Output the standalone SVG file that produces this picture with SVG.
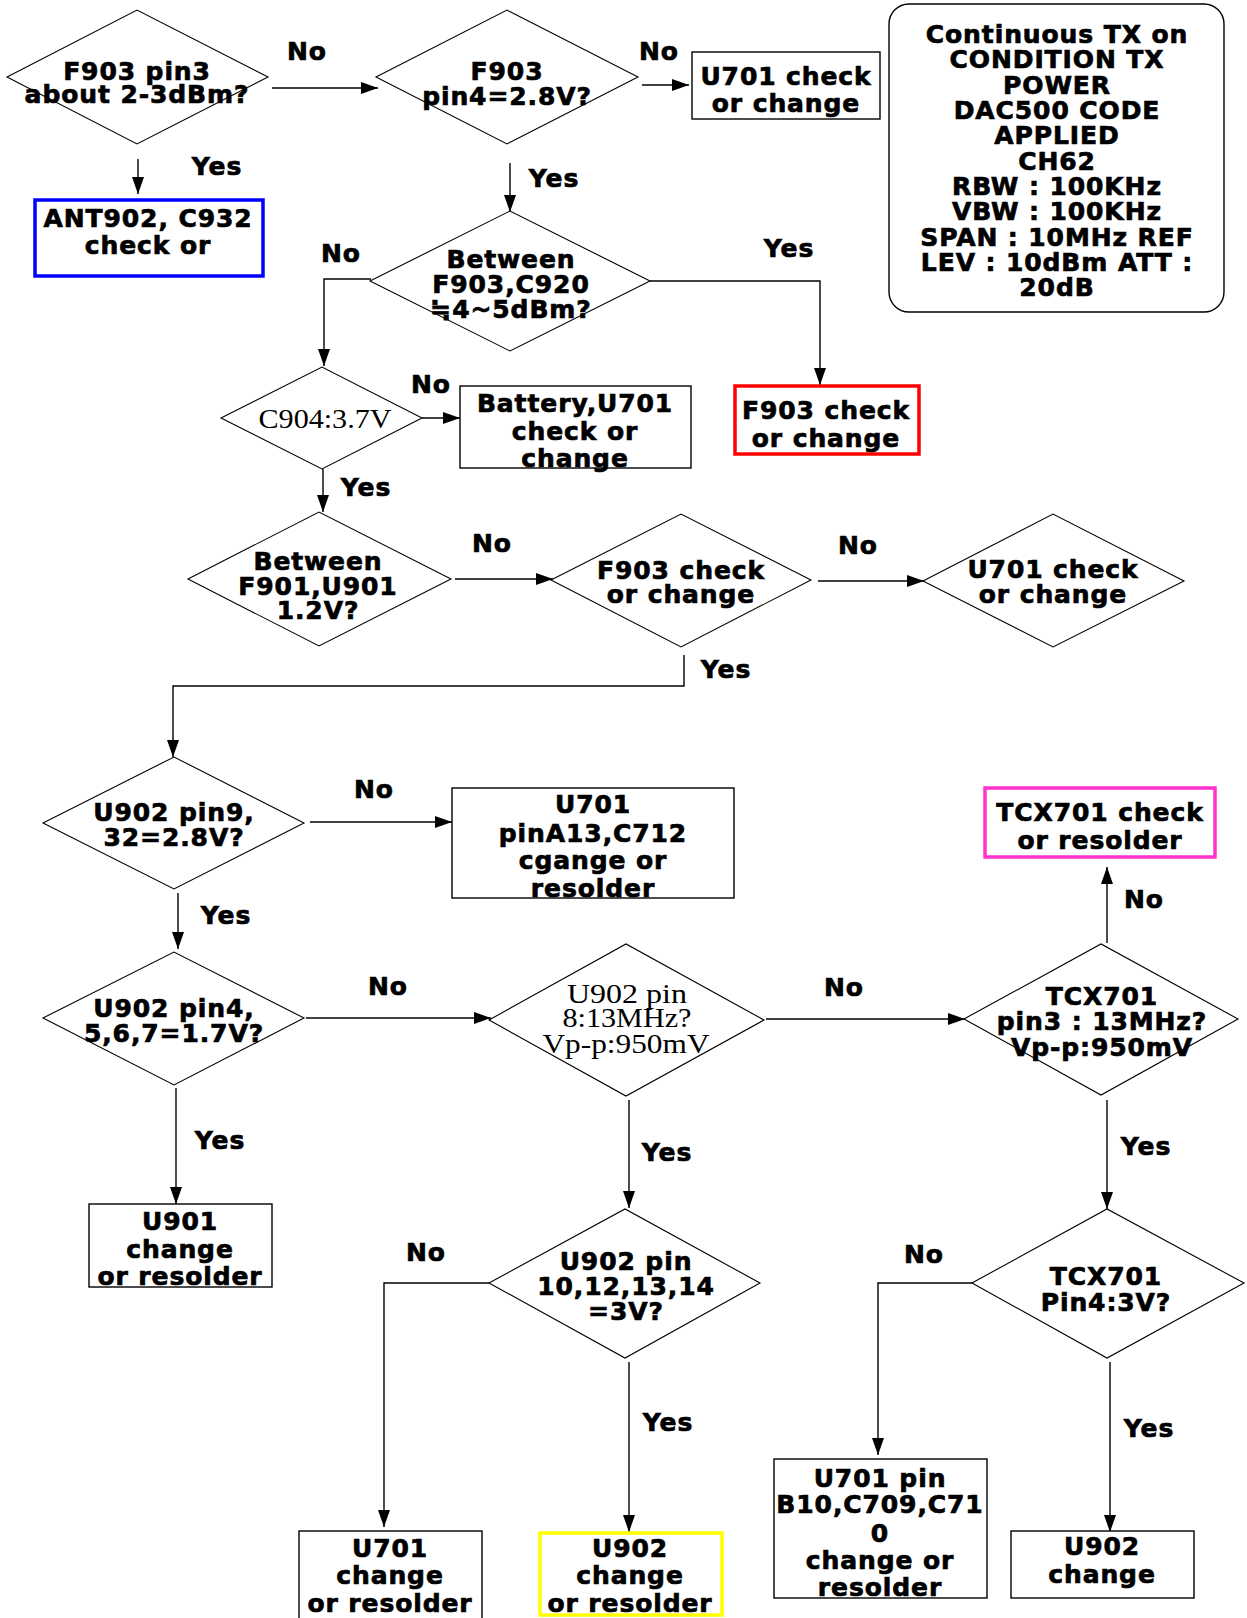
<svg xmlns="http://www.w3.org/2000/svg" width="1247" height="1618" viewBox="0 0 1247 1618">
<style>
.bg{fill:#fff}
.d{fill:#fff;stroke:#000;stroke-width:1.1}
.b{fill:#fff;stroke:#000;stroke-width:1.4}
.t{font-family:"DejaVu Sans","Verdana",sans-serif;font-weight:bold;font-size:25px;letter-spacing:0.9px;text-anchor:middle;fill:#000;stroke:#000;stroke-width:0.7px}
.s{font-family:"Liberation Serif","Times New Roman",serif;font-size:28px;text-anchor:middle;fill:#000}
.c{fill:none;stroke:#000;stroke-width:1.4}
</style>
<defs>
<marker id="ah" markerUnits="userSpaceOnUse" markerWidth="18" markerHeight="14" refX="17" refY="6" orient="auto">
<path d="M0,0 L17,6 L0,12 z" fill="#000"/>
</marker>
</defs>
<rect class="bg" x="0" y="0" width="1247" height="1618"/>

<g id="connectors">
<line class="c" x1="272" y1="88" x2="378" y2="88" marker-end="url(#ah)"/>
<text class="t" x="307" y="60">No</text>
<line class="c" x1="138" y1="159" x2="138" y2="194" marker-end="url(#ah)"/>
<text class="t" x="217" y="175">Yes</text>
<line class="c" x1="642" y1="85" x2="689" y2="85" marker-end="url(#ah)"/>
<text class="t" x="659" y="60">No</text>
<line class="c" x1="510" y1="163" x2="510" y2="212" marker-end="url(#ah)"/>
<text class="t" x="554" y="187">Yes</text>
<polyline class="c" points="650,281 820,281 820,385" marker-end="url(#ah)"/>
<text class="t" x="789" y="257">Yes</text>
<polyline class="c" points="371,279 324,279 324,366" marker-end="url(#ah)"/>
<text class="t" x="341" y="262">No</text>
<line class="c" x1="422" y1="418" x2="460" y2="418" marker-end="url(#ah)"/>
<text class="t" x="431" y="393">No</text>
<line class="c" x1="323" y1="469" x2="323" y2="512" marker-end="url(#ah)"/>
<text class="t" x="366" y="496">Yes</text>
<line class="c" x1="455" y1="579" x2="553" y2="579" marker-end="url(#ah)"/>
<text class="t" x="492" y="552">No</text>
<line class="c" x1="818" y1="581" x2="924" y2="581" marker-end="url(#ah)"/>
<text class="t" x="858" y="554">No</text>
<polyline class="c" points="684,655 684,686 173,686 173,757" marker-end="url(#ah)"/>
<text class="t" x="726" y="678">Yes</text>
<line class="c" x1="310" y1="822" x2="452" y2="822" marker-end="url(#ah)"/>
<text class="t" x="374" y="798">No</text>
<line class="c" x1="178" y1="893" x2="178" y2="949" marker-end="url(#ah)"/>
<text class="t" x="226" y="924">Yes</text>
<line class="c" x1="306" y1="1018" x2="491" y2="1018" marker-end="url(#ah)"/>
<text class="t" x="388" y="995">No</text>
<line class="c" x1="766" y1="1019" x2="965" y2="1019" marker-end="url(#ah)"/>
<text class="t" x="844" y="996">No</text>
<line class="c" x1="1107" y1="943" x2="1107" y2="867" marker-end="url(#ah)"/>
<text class="t" x="1144" y="908">No</text>
<line class="c" x1="176" y1="1088" x2="176" y2="1204" marker-end="url(#ah)"/>
<text class="t" x="220" y="1149">Yes</text>
<line class="c" x1="629" y1="1100" x2="629" y2="1208" marker-end="url(#ah)"/>
<text class="t" x="667" y="1161">Yes</text>
<polyline class="c" points="489,1283 384,1283 384,1527" marker-end="url(#ah)"/>
<text class="t" x="426" y="1261">No</text>
<line class="c" x1="629" y1="1362" x2="629" y2="1532" marker-end="url(#ah)"/>
<text class="t" x="668" y="1431">Yes</text>
<line class="c" x1="1107" y1="1100" x2="1107" y2="1209" marker-end="url(#ah)"/>
<text class="t" x="1146" y="1155">Yes</text>
<polyline class="c" points="972,1283 878,1283 878,1455" marker-end="url(#ah)"/>
<text class="t" x="924" y="1263">No</text>
<line class="c" x1="1110" y1="1362" x2="1110" y2="1532" marker-end="url(#ah)"/>
<text class="t" x="1149" y="1437">Yes</text>
</g>

<g id="d1">
<polygon class="d" points="7,77 137,10 268,77 137,144"/>
<text class="t" x="137" y="80">F903 pin3</text>
<text class="t" x="137" y="103">about 2-3dBm?</text>
</g>
<g id="d2">
<polygon class="d" points="376,77 507,10 638,77 507,144"/>
<text class="t" x="507" y="80">F903</text>
<text class="t" x="507" y="105">pin4=2.8V?</text>
</g>
<g id="b1">
<rect class="b" x="692" y="52" width="188" height="67"/>
<text class="t" x="786" y="85">U701 check</text>
<text class="t" x="786" y="112">or change</text>
</g>
<g id="note">
<rect class="b" x="889" y="4" width="335" height="308" rx="20" ry="20"/>
<text class="t" x="1057" y="43">Continuous TX on</text>
<text class="t" x="1057" y="68">CONDITION TX</text>
<text class="t" x="1057" y="94">POWER</text>
<text class="t" x="1057" y="119">DAC500 CODE</text>
<text class="t" x="1057" y="144">APPLIED</text>
<text class="t" x="1057" y="170">CH62</text>
<text class="t" x="1057" y="195">RBW : 100KHz</text>
<text class="t" x="1057" y="220">VBW : 100KHz</text>
<text class="t" x="1057" y="246">SPAN : 10MHz REF</text>
<text class="t" x="1057" y="271">LEV : 10dBm ATT :</text>
<text class="t" x="1057" y="296">20dB</text>
</g>
<g id="b_ant">
<rect x="35" y="200" width="228" height="76" fill="#fff" stroke="#0000ff" stroke-width="3.5"/>
<text class="t" x="148" y="227">ANT902, C932</text>
<text class="t" x="148" y="254">check or</text>
</g>
<g id="d3">
<polygon class="d" points="370,281 510,211 650,281 510,351"/>
<text class="t" x="511" y="268">Between</text>
<text class="t" x="511" y="293">F903,C920</text>
<text class="t" x="511" y="318">≒4~5dBm?</text>
</g>
<g id="d4">
<polygon class="d" points="221,418 322,367 422,418 322,469"/>
<text class="s" x="325" y="428" textLength="133" lengthAdjust="spacingAndGlyphs">C904:3.7V</text>
</g>
<g id="b_bat">
<rect class="b" x="460" y="386" width="231" height="82"/>
<text class="t" x="575" y="412">Battery,U701</text>
<text class="t" x="575" y="440">check or</text>
<text class="t" x="575" y="467">change</text>
</g>
<g id="b_f903">
<rect x="735" y="386" width="184" height="68" fill="#fff" stroke="#ff0000" stroke-width="3.5"/>
<text class="t" x="826" y="419">F903 check</text>
<text class="t" x="826" y="447">or change</text>
</g>
<g id="d5">
<polygon class="d" points="188,579 319,512 451,579 319,646"/>
<text class="t" x="318" y="570">Between</text>
<text class="t" x="318" y="595">F901,U901</text>
<text class="t" x="318" y="619">1.2V?</text>
</g>
<g id="d6">
<polygon class="d" points="551,580 681,514 811,580 681,647"/>
<text class="t" x="681" y="579">F903 check</text>
<text class="t" x="681" y="603">or change</text>
</g>
<g id="d7">
<polygon class="d" points="923,581 1053,514 1184,581 1053,647"/>
<text class="t" x="1053" y="578">U701 check</text>
<text class="t" x="1053" y="603">or change</text>
</g>
<g id="d8">
<polygon class="d" points="43,823 174,757 304,823 174,889"/>
<text class="t" x="174" y="821">U902 pin9,</text>
<text class="t" x="174" y="846">32=2.8V?</text>
</g>
<g id="b_u701a">
<rect class="b" x="452" y="788" width="282" height="110"/>
<text class="t" x="593" y="813">U701</text>
<text class="t" x="593" y="842">pinA13,C712</text>
<text class="t" x="593" y="869">cgange or</text>
<text class="t" x="593" y="897">resolder</text>
</g>
<g id="d9">
<polygon class="d" points="43,1018 174,952 304,1018 174,1085"/>
<text class="t" x="174" y="1017">U902 pin4,</text>
<text class="t" x="174" y="1042">5,6,7=1.7V?</text>
</g>
<g id="d10">
<polygon class="d" points="489,1020 626,944 764,1020 626,1096"/>
<text class="s" x="627" y="1003" textLength="120" lengthAdjust="spacingAndGlyphs">U902 pin</text>
<text class="s" x="627" y="1027" textLength="129" lengthAdjust="spacingAndGlyphs">8:13MHz?</text>
<text class="s" x="626" y="1053" textLength="167" lengthAdjust="spacingAndGlyphs">Vp-p:950mV</text>
</g>
<g id="d11">
<polygon class="d" points="964,1019 1101,944 1238,1019 1101,1095"/>
<text class="t" x="1102" y="1005">TCX701</text>
<text class="t" x="1102" y="1030">pin3 : 13MHz?</text>
<text class="t" x="1102" y="1056">Vp-p:950mV</text>
</g>
<g id="b_tcx">
<rect x="985" y="788" width="230" height="69" fill="#fff" stroke="#ff33cc" stroke-width="3.5"/>
<text class="t" x="1100" y="821">TCX701 check</text>
<text class="t" x="1100" y="849">or resolder</text>
</g>
<g id="b_u901">
<rect class="b" x="89" y="1204" width="183" height="83"/>
<text class="t" x="180" y="1230">U901</text>
<text class="t" x="180" y="1258">change</text>
<text class="t" x="180" y="1285">or resolder</text>
</g>
<g id="d12">
<polygon class="d" points="489,1283 625,1209 760,1283 625,1358"/>
<text class="t" x="626" y="1270">U902 pin</text>
<text class="t" x="626" y="1295">10,12,13,14</text>
<text class="t" x="626" y="1320">=3V?</text>
</g>
<g id="b_u701b">
<rect class="b" x="299" y="1531" width="183" height="100"/>
<text class="t" x="390" y="1557">U701</text>
<text class="t" x="390" y="1584">change</text>
<text class="t" x="390" y="1612">or resolder</text>
</g>
<g id="b_u902y">
<rect x="540" y="1533" width="182" height="82" fill="#fff" stroke="#ffff00" stroke-width="3.5"/>
<text class="t" x="630" y="1557">U902</text>
<text class="t" x="630" y="1584">change</text>
<text class="t" x="630" y="1612">or resolder</text>
</g>
<g id="d13">
<polygon class="d" points="972,1283 1107,1209 1244,1283 1107,1358"/>
<text class="t" x="1106" y="1285">TCX701</text>
<text class="t" x="1106" y="1311">Pin4:3V?</text>
</g>
<g id="b_u701c">
<rect class="b" x="774" y="1459" width="213" height="139"/>
<text class="t" x="880" y="1487">U701 pin</text>
<text class="t" x="880" y="1513">B10,C709,C71</text>
<text class="t" x="880" y="1542">0</text>
<text class="t" x="880" y="1569">change or</text>
<text class="t" x="880" y="1596">resolder</text>
</g>
<g id="b_u902c">
<rect class="b" x="1011" y="1531" width="183" height="67"/>
<text class="t" x="1102" y="1555">U902</text>
<text class="t" x="1102" y="1583">change</text>
</g>
</svg>
